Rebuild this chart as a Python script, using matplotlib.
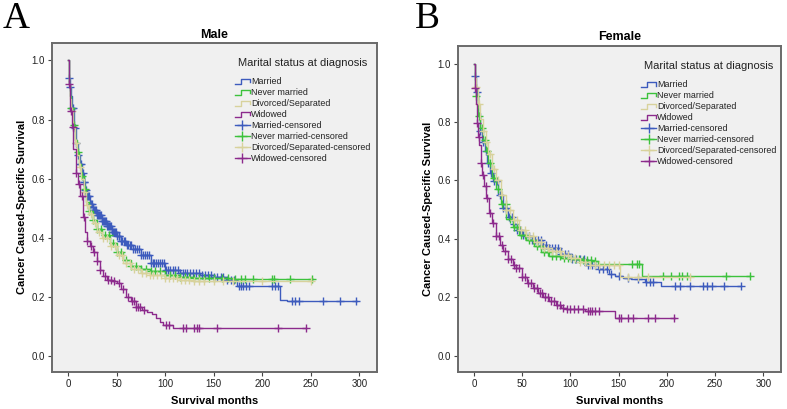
import numpy as np
import matplotlib
matplotlib.use("Agg")
import matplotlib.pyplot as plt
from matplotlib.lines import Line2D
from matplotlib.legend_handler import HandlerBase

plt.rcParams["font.family"] = ["Liberation Sans", "DejaVu Sans"]

# ---- data (months, survival) ----
groups = ["Married", "Never married", "Divorced/Separated", "Widowed"]
colors = ["#3d5bbd", "#3cc23c", "#d8d29c", "#8c2a8c"]

# Male
m_mar_t = [0, 1, 2, 3, 4, 6, 8, 10, 12, 14, 16, 18, 20, 23, 26, 30, 35, 40, 45, 50, 55, 60, 67, 75, 85, 100, 115, 136, 150, 163, 174, 218, 225]
m_mar_s = [1.0, 0.94, 0.91, 0.88, 0.84, 0.77, 0.72, 0.68, 0.65, 0.62, 0.59, 0.56, 0.54, 0.515, 0.495, 0.475, 0.455, 0.44, 0.42, 0.405, 0.39, 0.375, 0.36, 0.34, 0.315, 0.29, 0.28, 0.272, 0.265, 0.258, 0.237, 0.19, 0.185]
m_mar_end = 297
m_mar_c = [1, 2, 4, 5, 7, 8, 10, 12, 13, 15, 16, 17, 18, 19, 20, 21, 22, 23, 24, 25, 26, 27, 28, 29, 30, 31, 32, 33, 34, 35,
           36, 37, 38, 39, 40, 41, 42, 43, 44, 45, 46, 47, 48, 49, 50, 52, 53, 55, 56, 58, 59, 61, 62, 64, 65, 67, 69, 71,
           73, 75, 77, 79, 81, 83, 85, 87, 89, 91, 93, 95, 97, 99, 101, 103, 105, 108, 110, 113, 115, 118, 120, 123, 126,
           129, 132, 135, 138, 141, 144, 147, 150, 153, 157, 160, 164, 168, 171, 176, 178, 180, 183, 186, 210, 213, 216,
           231, 234, 238, 262, 280, 296]

m_nev_t = [0, 1, 2, 3, 5, 7, 9, 11, 13, 16, 19, 22, 26, 30, 35, 43, 50, 57, 65, 75, 84, 100, 115, 130, 170]
m_nev_s = [1.0, 0.92, 0.88, 0.84, 0.78, 0.73, 0.69, 0.65, 0.61, 0.565, 0.52, 0.49, 0.46, 0.43, 0.41, 0.383, 0.35, 0.325, 0.305, 0.293, 0.286, 0.275, 0.268, 0.264, 0.261]
m_nev_end = 252
m_nev_c = [3, 6, 10, 14, 18, 22, 26, 30, 34, 38, 42, 46, 50, 55, 60, 65, 70, 75, 80, 85, 90, 95, 100, 105, 110, 115, 120, 125, 130, 135, 140, 145, 150, 158, 165, 172, 178, 182, 190, 210, 212, 228, 251]

m_div_t = [0, 1, 2, 3, 5, 7, 9, 11, 13, 16, 19, 22, 26, 30, 35, 43, 50, 57, 65, 75, 84, 100, 115, 130, 150]
m_div_s = [1.0, 0.92, 0.87, 0.83, 0.77, 0.72, 0.68, 0.64, 0.60, 0.555, 0.51, 0.48, 0.45, 0.42, 0.40, 0.37, 0.34, 0.315, 0.295, 0.28, 0.272, 0.263, 0.257, 0.254, 0.252]
m_div_end = 250
m_div_c = [4, 8, 12, 16, 20, 24, 28, 32, 36, 40, 44, 48, 52, 56, 60, 64, 68, 72, 76, 80, 84, 88, 92, 96, 100, 104, 108, 112, 116, 120, 125, 130, 135, 140, 150, 160, 170, 200, 250]

m_wid_t = [0, 1, 2, 4, 5.5, 8, 10, 12, 15, 17.5, 20, 23, 26, 30, 33, 36, 40, 45, 50, 55, 60, 65, 70, 76, 81, 86, 91, 95, 98, 108]
m_wid_s = [1.0, 0.92, 0.83, 0.776, 0.70, 0.62, 0.58, 0.54, 0.47, 0.42, 0.39, 0.37, 0.35, 0.32, 0.29, 0.27, 0.258, 0.252, 0.245, 0.225, 0.20, 0.185, 0.165, 0.155, 0.148, 0.14, 0.128, 0.115, 0.105, 0.094]
m_wid_end = 245
m_wid_c = [1, 3, 5, 8, 11, 14, 17, 20, 24, 27, 30, 33, 38, 41, 44, 47, 52, 57, 62, 66, 68, 70, 72, 74, 78, 101, 104, 118, 121, 130, 133, 135, 153, 216, 245]

# Female
f_mar_t = [0, 1, 2, 4, 6, 8, 11, 14, 17, 20, 25, 30, 35, 40, 45, 50, 54, 60, 70, 78, 90, 102, 115, 129, 140, 146, 155, 163, 177, 194]
f_mar_s = [1.0, 0.956, 0.904, 0.83, 0.768, 0.73, 0.70, 0.66, 0.625, 0.597, 0.55, 0.506, 0.475, 0.45, 0.43, 0.415, 0.41, 0.395, 0.38, 0.37, 0.35, 0.33, 0.31, 0.296, 0.28, 0.273, 0.268, 0.262, 0.254, 0.239]
f_mar_end = 277
f_mar_c = [1, 3, 6, 9, 12, 15, 18, 21, 24, 27, 30, 33, 36, 39, 42, 45, 48, 51, 54, 57, 60, 63, 66, 69, 72, 75, 78, 81, 84, 87, 90, 94, 98, 102, 106, 110, 114, 118, 122, 126, 130, 134, 138, 142, 150, 160, 170, 178, 182, 186, 208, 214, 224, 237, 242, 247, 259, 277]

f_nev_t = [0, 1, 2, 4, 6, 9, 12, 15, 19, 23, 28, 33.5, 40, 47, 54, 62, 70, 78, 90, 102, 113, 122, 129, 174]
f_nev_s = [1.0, 0.93, 0.89, 0.82, 0.78, 0.74, 0.70, 0.66, 0.61, 0.57, 0.52, 0.47, 0.44, 0.415, 0.395, 0.375, 0.355, 0.341, 0.335, 0.33, 0.327, 0.324, 0.315, 0.273]
f_nev_end = 286
f_nev_c = [2, 5, 8, 11, 14, 17, 21, 25, 29, 33, 37, 41, 45, 49, 53, 57, 61, 65, 69, 73, 77, 81, 85, 89, 93, 97, 101, 105, 109, 113, 117, 121, 125, 164, 169, 171, 196, 204, 213, 216, 221, 261, 286]

f_div_t = [0, 1, 2, 4, 6, 9, 12, 15, 19, 23, 28, 33, 40, 47, 54, 62, 70, 78, 90, 100, 110, 120, 151]
f_div_s = [1.0, 0.95, 0.92, 0.86, 0.81, 0.77, 0.73, 0.69, 0.64, 0.60, 0.55, 0.50, 0.465, 0.43, 0.41, 0.39, 0.37, 0.36, 0.345, 0.335, 0.32, 0.31, 0.27]
f_div_end = 224
f_div_c = [2, 5, 9, 13, 17, 21, 25, 29, 33, 37, 41, 45, 49, 53, 57, 61, 65, 69, 73, 77, 81, 85, 89, 93, 97, 101, 105, 110, 115, 120, 125, 130, 135, 140, 145, 150, 160, 170, 180, 224]

f_wid_t = [0, 1, 2, 2.7, 4, 5.5, 7, 8, 10, 13, 16, 19, 23, 27, 30, 35, 40, 44, 50, 55, 61, 66, 72, 78, 85, 90, 95, 115, 146]
f_wid_s = [1.0, 0.916, 0.86, 0.796, 0.75, 0.72, 0.66, 0.62, 0.58, 0.54, 0.49, 0.455, 0.41, 0.38, 0.36, 0.33, 0.31, 0.30, 0.27, 0.25, 0.233, 0.215, 0.20, 0.188, 0.175, 0.165, 0.159, 0.154, 0.131]
f_wid_end = 208
f_wid_c = [1, 3, 5, 7, 9, 12, 14, 17, 20, 23, 26, 29, 32, 35, 38, 41, 44, 47, 50, 53, 56, 59, 62, 65, 68, 71, 74, 77, 80, 83, 86, 89, 92, 96, 100, 104, 108, 113, 118, 120, 122, 125, 130, 150, 152, 160, 165, 180, 188, 207]

male = [(m_mar_t, m_mar_s, m_mar_end, m_mar_c),
        (m_nev_t, m_nev_s, m_nev_end, m_nev_c),
        (m_div_t, m_div_s, m_div_end, m_div_c),
        (m_wid_t, m_wid_s, m_wid_end, m_wid_c)]
female = [(f_mar_t, f_mar_s, f_mar_end, f_mar_c),
          (f_nev_t, f_nev_s, f_nev_end, f_nev_c),
          (f_div_t, f_div_s, f_div_end, f_div_c),
          (f_wid_t, f_wid_s, f_wid_end, f_wid_c)]

xticks = [0, 50, 100, 150, 200, 250, 300]
yticks = [0.0, 0.2, 0.4, 0.6, 0.8, 1.0]


class HandlerStep(HandlerBase):
    # small step-shaped legend icon like SPSS
    def create_artists(self, legend, orig_handle, xdescent, ydescent,
                       width, height, fontsize, trans):
        xs = np.array([0.0, 0.4, 0.4, 1.0, 1.0]) * width - xdescent
        ys = np.array([0.1, 0.1, 0.9, 0.9, 0.3]) * height - ydescent
        return [Line2D(xs, ys, color=orig_handle.get_color(), lw=1.0, transform=trans)]


def draw_panel(ax, curves, title, leg_x, title_pad):
    ax.set_facecolor("#f0f0f0")
    order = [2, 1, 0, 3]
    for i in order:
        t, s, end, cens = curves[i]
        t = np.asarray(t, float)
        s = np.asarray(s, float)
        ax.step(np.append(t, end), np.append(s, s[-1]), where="post",
                color=colors[i], lw=1.0, zorder=2 + i * 0.1)
        c = np.asarray(cens, float)
        cy = s[np.searchsorted(t, c, side="right") - 1]
        ax.plot(c, cy, ls="none", marker="+", ms=5.5, mew=1.0,
                color=colors[i], zorder=2 + i * 0.1)

    ax.set_xlim(-16.5, 318)
    ax.set_ylim(-0.055, 1.06)
    ax.set_xticks(xticks)
    ax.set_yticks(yticks)
    ax.set_yticklabels([f"{v:.1f}" for v in yticks])
    ax.tick_params(labelsize=7, length=3, width=0.8, color="#444444", labelcolor="#222222", pad=2)
    for sp in ax.spines.values():
        sp.set_color("#6a6a6a")
        sp.set_linewidth(1.4)
    ax.set_title(title, fontsize=9, fontweight="bold", pad=title_pad)
    ax.set_xlabel("Survival months", fontsize=8, fontweight="bold", labelpad=5)
    ax.set_ylabel("Cancer Caused-Specific Survival", fontsize=8, fontweight="bold", labelpad=3.5)

    step_h = [Line2D([], [], color=c) for c in colors]
    cens_h = [Line2D([], [], color=c, marker="+", ms=6.5, mew=1.0, lw=1.0) for c in colors]
    labels = groups + [g + "-censored" for g in groups]
    hmap = {h: HandlerStep() for h in step_h}
    leg = ax.legend(step_h + cens_h, labels, handler_map=hmap, loc="upper left",
                    bbox_to_anchor=(leg_x, 0.955), frameon=False, fontsize=6.4,
                    title="Marital status at diagnosis", title_fontsize=8,
                    handlelength=1.7, handletextpad=0.1, labelspacing=0.22,
                    borderpad=0, borderaxespad=0, numpoints=1)
    leg._legend_box.sep = 7
    for tx in leg.get_texts():
        tx.set_color("#222222")
    leg.get_title().set_color("#222222")


fig = plt.figure(figsize=(7.87, 4.09), dpi=100)
ax1 = fig.add_axes([0.066, 0.0905, 0.413, 0.805])
ax2 = fig.add_axes([0.582, 0.0905, 0.41, 0.797])
draw_panel(ax1, male, "Male", 0.563, 3.5)
draw_panel(ax2, female, "Female", 0.567, 4)

fig.text(0.003, 0.997, "A", fontsize=27, family="Liberation Serif", va="top", ha="left")
fig.text(0.527, 0.997, "B", fontsize=27, family="Liberation Serif", va="top", ha="left")

fig.savefig("out.png", dpi=100)
